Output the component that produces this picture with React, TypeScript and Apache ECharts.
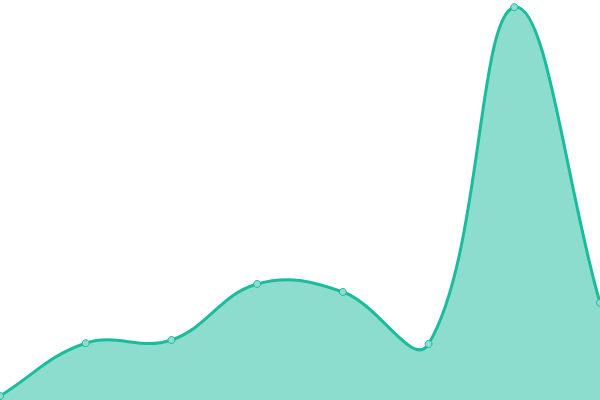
import React, { useEffect, useRef } from "react";
import * as echarts from "echarts";

const categories = ["1", "2", "3", "4", "5", "6", "7", "8"];
const values = [1, 14.2, 15, 29, 27, 14, 98.2, 24.3];
const tension = 0.4;

function buildPath(pts: number[][], bottom: number, w: number, h: number) {
  const clamp = (v: number, lo: number, hi: number) => Math.max(lo, Math.min(hi, v));
  const ctrl: { cp1: number[]; cp2: number[] }[] = [];
  for (let i = 0; i < pts.length; i++) {
    const prev = pts[i - 1] || pts[i];
    const cur = pts[i];
    const next = pts[i + 1] || pts[i];
    const d01 = Math.hypot(cur[0] - prev[0], cur[1] - prev[1]);
    const d12 = Math.hypot(next[0] - cur[0], next[1] - cur[1]);
    let s01 = d01 / (d01 + d12);
    let s12 = d12 / (d01 + d12);
    if (isNaN(s01)) s01 = 0;
    if (isNaN(s12)) s12 = 0;
    const fa = tension * s01;
    const fb = tension * s12;
    const cp1 = [cur[0] - fa * (next[0] - prev[0]), cur[1] - fa * (next[1] - prev[1])];
    const cp2 = [cur[0] + fb * (next[0] - prev[0]), cur[1] + fb * (next[1] - prev[1])];
    cp1[0] = clamp(cp1[0], 0, w); cp1[1] = clamp(cp1[1], 0, h);
    cp2[0] = clamp(cp2[0], 0, w); cp2[1] = clamp(cp2[1], 0, h);
    ctrl.push({ cp1, cp2 });
  }
  let d = `M${pts[0][0]},${pts[0][1]}`;
  for (let i = 1; i < pts.length; i++) {
    const a = ctrl[i - 1].cp2;
    const b = ctrl[i].cp1;
    d += ` C${a[0]},${a[1]} ${b[0]},${b[1]} ${pts[i][0]},${pts[i][1]}`;
  }
  const line = d;
  const area = d + ` L${pts[pts.length - 1][0]},${bottom} L${pts[0][0]},${bottom} Z`;
  return { line, area };
}

export default function App() {
  const ref = useRef<HTMLDivElement>(null);
  useEffect(() => {
    const chart = echarts.init(ref.current!, null, { renderer: "svg" });
    chart.setOption({
      animation: false,
      grid: { left: 0, right: 0, top: 0, bottom: 0 },
      xAxis: { type: "category", data: categories, boundaryGap: false, show: false },
      yAxis: { type: "value", min: 0, max: 100, show: false },
      series: [
        {
          type: "custom",
          z: 2,
          silent: true,
          clip: false,
          data: [[0, 0]],
          renderItem: (params: any, api: any) => {
            const pts = values.map((v, i) => api.coord([i, v]));
            const bottom = api.coord([0, 0])[1];
            const cs = params.coordSys;
            const { line, area } = buildPath(pts, bottom, cs.x + cs.width, cs.y + cs.height);
            return {
              type: "group",
              children: [
                { type: "path", shape: { pathData: area }, style: { fill: "rgba(26,188,156,0.5)", stroke: "none" } },
                { type: "path", shape: { pathData: line }, style: { fill: "none", stroke: "#1abc9c", lineWidth: 3 } },
              ],
            };
          },
        },
        {
          type: "scatter",
          z: 3,
          data: values,
          symbol: "circle",
          symbolSize: 7,
          itemStyle: { color: "#8ddece", borderColor: "#1abc9c", borderWidth: 1, opacity: 1 },
        },
      ],
    });
    return () => chart.dispose();
  }, []);
  return <div ref={ref} style={{ position: "absolute", left: 0, top: 0, width: 600, height: 400 }} />;
}
